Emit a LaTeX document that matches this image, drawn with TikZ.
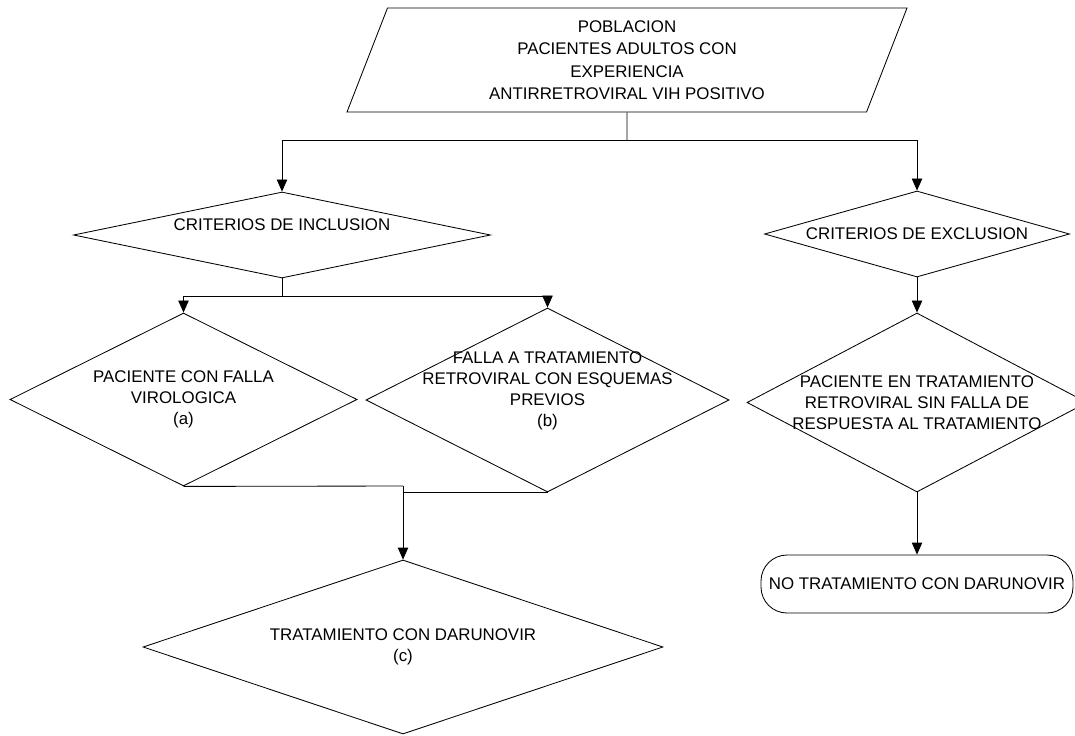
\documentclass[tikz,border=0pt]{standalone}
\usepackage{fontspec}
\setmainfont{Liberation Sans}
\usepackage{tikz}
\usetikzlibrary{shapes,arrows.meta,positioning,calc}

\newcommand\pxu{0.025cm}

\begin{document}
\begin{tikzpicture}[
            x=0.025cm, y=-0.025cm,
            line width=0.6pt,
            every node/.style={font=\fontsize{12}{15}\selectfont},
            txt/.style={align=center, inner sep=0pt},
            dia/.style={diamond, draw, inner sep=0pt},
            arr/.style={-{Triangle[width=0.26cm,length=0.3cm]}},
        ]
            \useasboundingbox (0,0) rectangle (1075,735);
            \node[trapezium, draw, trapezium left angle=63, trapezium right angle=117,
                  trapezium stretches body=true, inner sep=0pt,
                  minimum width=560*\pxu, minimum height=104*\pxu,
                  font=\fontsize{12}{16}\selectfont, align=center] (pob) at (627,60)
                {POBLACION\\ PACIENTES ADULTOS CON\\ EXPERIENCIA\\ ANTIRRETROVIRAL VIH POSITIVO};
            \node[dia, minimum width=417*\pxu, minimum height=86*\pxu,
                  label={[txt, yshift=0.25cm]center:CRITERIOS DE INCLUSION}] (incl) at (282,235) {};
            \node[dia, minimum width=305*\pxu, minimum height=86*\pxu,
                  label={[txt]center:CRITERIOS DE EXCLUSION}] (excl) at (917,234) {};
            \node[dia, minimum width=347*\pxu, minimum height=173*\pxu,
                  label={[txt]center:PACIENTE CON FALLA\\ VIROLOGICA\\ (a)}] (fva) at (183.5,399.5) {};
            \node[dia, minimum width=363*\pxu, minimum height=184*\pxu,
                  label={[txt, yshift=0.22cm]center:FALLA A TRATAMIENTO\\ RETROVIRAL CON ESQUEMAS\\ PREVIOS\\ (b)}] (fte) at (547.5,400) {};
            \node[dia, minimum width=520*\pxu, minimum height=174*\pxu,
                  label={[txt]center:TRATAMIENTO CON DARUNOVIR\\ (c)}] (dar) at (403,647) {};
            \node[dia, minimum width=340*\pxu, minimum height=179*\pxu,
                  label={[txt]center:PACIENTE EN TRATAMIENTO\\ RETROVIRAL SIN FALLA DE\\ RESPUESTA AL TRATAMIENTO}] (sfr) at (917,402.5) {};
            \node[draw, rounded corners=0.65cm, inner sep=2pt,
                  minimum width=312*\pxu, minimum height=58*\pxu] (nodar) at (917,584) {NO TRATAMIENTO CON DARUNOVIR};
            % ramas
            \coordinate (split1) at (627,140);
            \coordinate (split2) at (282,296);
            \coordinate (join) at (403,486);
            \draw (pob.south) -- (split1);
            \draw[arr] (split1) -| (incl.north);
            \draw[arr] (split1) -| (excl.north);
            \draw (incl.south) -- (split2);
            \draw[arr] (split2) -| (fva.north);
            \draw[arr] (split2) -| (fte.north);
            \draw (fva.south) -- (join);
            \draw (fte.south) -- (fte.south -| join);
            \draw[arr] (join) -- (dar.north);
            \draw[arr] (excl.south) -- (sfr.north);
            \draw[arr] (sfr.south) -- (nodar.north);
        \end{tikzpicture}
\end{document}
